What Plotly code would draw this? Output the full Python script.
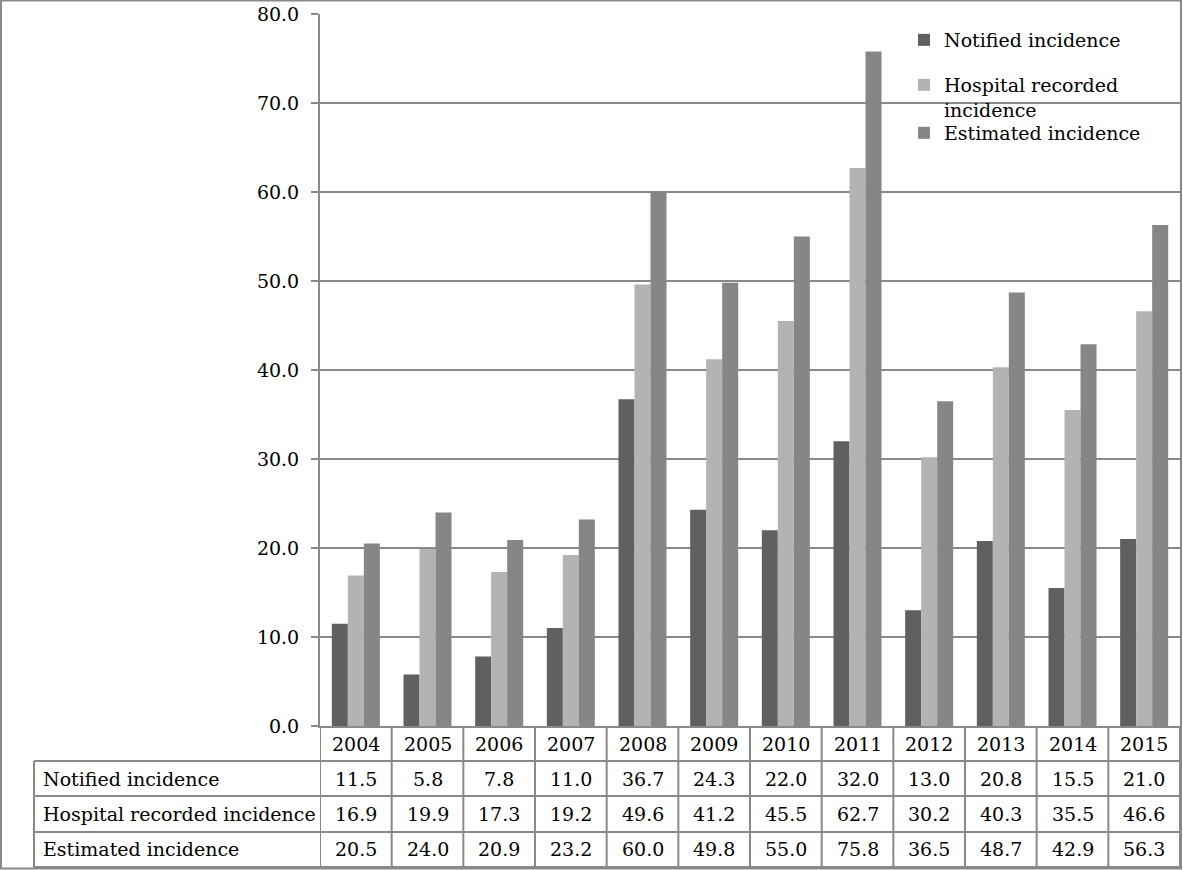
import plotly.graph_objects as go

years = ["2004", "2005", "2006", "2007", "2008", "2009", "2010", "2011", "2012", "2013", "2014", "2015"]
notified = [11.5, 5.8, 7.8, 11.0, 36.7, 24.3, 22.0, 32.0, 13.0, 20.8, 15.5, 21.0]
hospital = [16.9, 19.9, 17.3, 19.2, 49.6, 41.2, 45.5, 62.7, 30.2, 40.3, 35.5, 46.6]
estimated = [20.5, 24.0, 20.9, 23.2, 60.0, 49.8, 55.0, 75.8, 36.5, 48.7, 42.9, 56.3]
series_names = ["Notified incidence", "Hospital recorded incidence", "Estimated incidence"]
legend_labels = ["Notified incidence", "Hospital recorded<br>incidence", "Estimated incidence"]
series_values = [notified, hospital, estimated]
colors = ["#606060", "#b3b3b3", "#868686"]

W, H = 1183, 870
L, R, T, B = 320, 1180, 14, 726
FONT = "DejaVu Serif"
LINE = "#898989"


def px_x(p):
    return (p - L) / (R - L)


def px_y(p):
    return (B - p) / (B - T)


fig = go.Figure()
legend_ids = ["legend", "legend2", "legend3"]
for name, lab, vals, col, lid in zip(series_names, legend_labels, series_values, colors, legend_ids):
    fig.add_trace(go.Bar(x=years, y=vals, name=lab, marker=dict(color=col, line=dict(width=0)),
                         legend=lid, hovertemplate=name + " %{x}: %{y:.1f}<extra></extra>"))

shapes = []
annotations = []
n = len(years)

# table horizontal lines
row_lines = [761, 796, 832, 867]
for yy in row_lines:
    shapes.append(dict(type="line", xref="paper", yref="paper", x0=px_x(34), x1=px_x(R + 1),
                       y0=px_y(yy), y1=px_y(yy), line=dict(color=LINE, width=2)))
# label column left line
shapes.append(dict(type="line", xref="paper", yref="paper", x0=px_x(34), x1=px_x(34),
                   y0=px_y(761), y1=px_y(868), line=dict(color=LINE, width=2)))
# column boundaries
for i in range(n + 1):
    shapes.append(dict(type="line", xref="x", yref="paper", x0=i - 0.5, x1=i - 0.5,
                       y0=px_y(B), y1=px_y(868), line=dict(color=LINE, width=2)))
# outer frame
shapes.append(dict(type="rect", xref="paper", yref="paper", x0=px_x(1), x1=px_x(1181),
                   y0=px_y(868.5), y1=px_y(0.5), line=dict(color=LINE, width=2), layer="below"))

# table text
row_centers = [778.5, 814, 849.5]
for i, yr in enumerate(years):
    annotations.append(dict(x=i, y=px_y(743.5), xref="x", yref="paper", text=yr, showarrow=False,
                            font=dict(family=FONT, size=19, color="black"), xanchor="center", yanchor="middle"))
for name, vals, yc in zip(series_names, series_values, row_centers):
    annotations.append(dict(x=px_x(41), y=px_y(yc), xref="paper", yref="paper", text=name, showarrow=False,
                            font=dict(family=FONT, size=19, color="black"), xanchor="left", yanchor="middle"))
    for i, v in enumerate(vals):
        annotations.append(dict(x=i, y=px_y(yc), xref="x", yref="paper", text=f"{v:.1f}", showarrow=False,
                                font=dict(family=FONT, size=19, color="black"), xanchor="center", yanchor="middle"))

leg_common = dict(bgcolor="rgba(0,0,0,0)", font=dict(family=FONT, size=19, color="black"),
                  xanchor="left", yanchor="top", valign="top", borderwidth=0)
leg_x = px_x(904)

fig.update_layout(
    width=W, height=H,
    margin=dict(l=L, r=W - R, t=T, b=H - B, pad=0),
    paper_bgcolor="white", plot_bgcolor="white",
    barmode="group", bargap=0.33, bargroupgap=0,
    font=dict(family=FONT, size=19, color="black"),
    xaxis=dict(type="category", range=[-0.5, n - 0.5], autorange=False, showticklabels=False,
               showgrid=False, ticks="", showline=True, linecolor=LINE, linewidth=2, zeroline=False),
    yaxis=dict(range=[0, 80], dtick=10, tickformat=".1f", showgrid=True, gridcolor=LINE, gridwidth=2,
               showline=True, linecolor=LINE, linewidth=2, ticks="outside", ticklen=7, tickwidth=2,
               tickcolor=LINE, zeroline=False, ticklabelstandoff=8,
               tickfont=dict(family=FONT, size=19, color="black")),
    legend=dict(x=leg_x, y=px_y(21), **leg_common),
    legend2=dict(x=leg_x, y=px_y(66), **leg_common),
    legend3=dict(x=leg_x, y=px_y(114), **leg_common),
    shapes=shapes,
    annotations=annotations,
    showlegend=True,
)

fig.write_html("out.html", config={"displayModeBar": False},
               post_script="document.body.style.margin='0px';document.body.style.overflow='hidden';")
